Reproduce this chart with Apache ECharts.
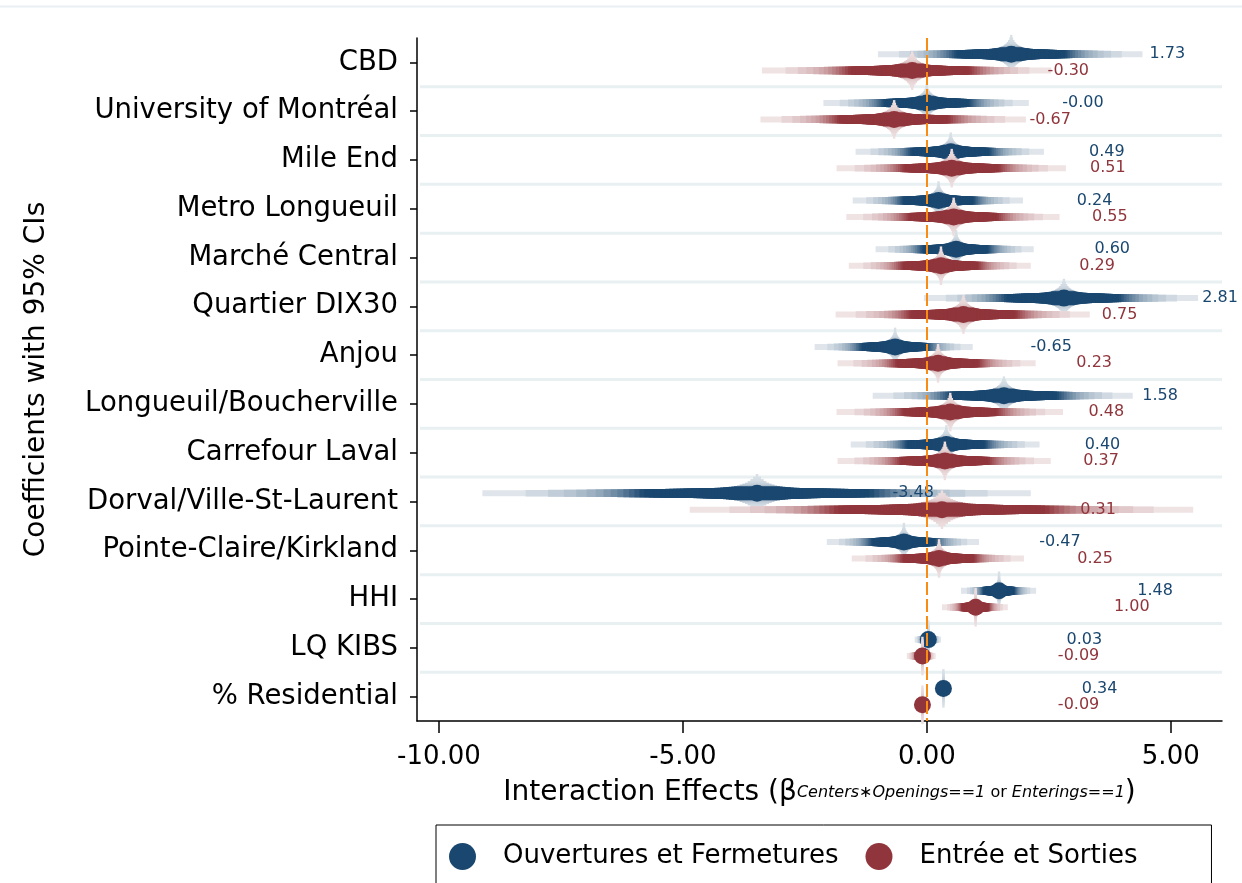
<!DOCTYPE html>
<html><head><meta charset="utf-8">
<script src="https://cdn.jsdelivr.net/npm/echarts@6/dist/echarts.min.js"></script>
<style>html,body{margin:0;padding:0;background:#fff}#c{width:1242px;height:883px}</style>
</head><body><div id="c"></div>
<script>
// ---------------- DATA ----------------
const categories = ['CBD','University of Montréal','Mile End','Metro Longueuil','Marché Central','Quartier DIX30','Anjou','Longueuil/Boucherville','Carrefour Laval','Dorval/Ville-St-Laurent','Pointe-Claire/Kirkland','HHI','LQ KIBS','% Residential'];
const seriesNames = ['Ouvertures et Fermetures','Entrée et Sorties'];
const blueEst = [1.73, -0.001, 0.49, 0.24, 0.60, 2.81, -0.65, 1.58, 0.40, -3.48, -0.47, 1.48, 0.03, 0.34];
const blueLo  = [-1.00, -2.12, -1.46, -1.52, -1.05, -0.06, -2.30, -1.11, -1.56, -9.11, -2.05, 0.70, -0.25, 0.25];
const blueHi  = [4.42, 2.09, 2.40, 1.97, 2.19, 5.56, 0.94, 4.22, 2.31, 2.13, 1.07, 2.24, 0.29, 0.43];
const redEst  = [-0.30, -0.67, 0.51, 0.55, 0.29, 0.75, 0.23, 0.48, 0.37, 0.31, 0.25, 1.00, -0.09, -0.09];
const redLo   = [-3.38, -3.41, -1.85, -1.65, -1.60, -1.87, -1.83, -1.85, -1.83, -4.86, -1.54, 0.31, -0.41, -0.17];
const redHi   = [2.55, 2.03, 2.85, 2.72, 2.13, 3.34, 2.23, 2.79, 2.54, 5.46, 1.99, 1.66, 0.18, -0.01];
const xTicks  = [-10, -5, 0, 5];

// ---------------- STYLE ----------------
const BLUE = [26, 71, 111], RED = [144, 53, 59];
const FONT = 'DejaVu Sans';
const LABEL_SHIFT = 3.2;   // value labels drawn this far right of the estimate (axis units)
const OFFSET = 8.2;        // px offset of the two series within a category band

function tint(c, i) { return 'rgb(' + c.map(v => Math.round(255 - i * (255 - v))).join(',') + ')'; }
function interp(xs, ys, x) {
  if (x <= xs[0]) return ys[0];
  for (let k = 1; k < xs.length; k++) if (x <= xs[k]) return ys[k-1] + (ys[k]-ys[k-1]) * (x-xs[k-1])/(xs[k]-xs[k-1]);
  return ys[ys.length-1];
}
function erf(x){const s=Math.sign(x);x=Math.abs(x);const t=1/(1+0.3275911*x);const y=1-(((((1.061405429*t-1.453152027)*t)+1.421413741)*t-0.284496736)*t+0.254829592)*t*Math.exp(-x*x);return s*y;}
function zOfLevel(t){let a=0,b=6;for(let k=0;k<60;k++){const m=(a+b)/2; if(erf(m/Math.SQRT2)<t) a=m; else b=m;}return (a+b)/2;}
// smooth-CI levels (rendering style)
const TH_F = [0, 0.01, 0.02, 0.04, 0.07, 0.10, 0.15, 0.25, 0.43, 1];
const TH_H = [41, 36, 30, 22, 16, 13, 11, 9.5, 8, 6];
const IN_F = [0, 0.02, 0.04, 0.07, 0.095, 0.42, 0.46, 0.52, 0.60, 0.70, 0.85, 1];
const IN_I = [0.16, 0.18, 0.22, 0.32, 1, 1, 0.85, 0.65, 0.45, 0.32, 0.2, 0.14];
const zMax = zOfLevel(0.99);
const LEVELS = [];
for (let k = 0; k < 50; k++) {
  const t = (2*k+1)/100, f = zOfLevel(t)/zMax;
  LEVELS.push({f, h: interp(TH_F, TH_H, f), i: interp(IN_F, IN_I, f), k});
}
LEVELS.sort((a, b) => a.i - b.i || b.f - a.f);

function makeRender(col, dy, drawSep) {
  return function (params, api) {
    const cat = api.value(0), est = api.value(1), lo = api.value(2), hi = api.value(3);
    const p = api.coord([est, cat]);
    const cx = p[0], cy = p[1] + dy;
    const L = cx - api.coord([lo, cat])[0], R = api.coord([hi, cat])[0] - cx;
    const children = [];
    if (drawSep && params.dataIndex < categories.length - 1) {
      const band = api.size([0, 1])[1];
      const cs = params.coordSys;
      const ys = p[1] + band/2;
      children.push({type:'line', shape:{x1: cs.x + 3, y1: ys, x2: cs.x + cs.width, y2: ys}, style:{stroke:'#e8f0f2', lineWidth:3}});
    }
    LEVELS.forEach(l => {
      const a = Math.max(l.f * L, 1.2), b = Math.max(l.f * R, 1.2);
      children.push({type:'rect', shape:{x: cx - a, y: cy - l.h/2, width: a + b, height: l.h}, style:{fill: tint(col, l.i)}});
    });
    children.push({type:'circle', shape:{cx, cy, r: 8.5}, style:{fill: tint(col, 1)}});
    const lp = api.coord([est + LABEL_SHIFT, cat]);
    children.push({type:'text', x: lp[0], y: cy, style:{text: est.toFixed(2), fill: tint(col, 1), fontSize: 16, fontFamily: FONT, align:'center', verticalAlign:'middle', textAlign:'center', textVerticalAlign:'middle'}});
    return {type:'group', children};
  };
}

const chart = echarts.init(document.getElementById('c'), null, {renderer:'canvas'});
chart.setOption({
  backgroundColor: '#fff',
  animation: false,
  graphic: [{type:'line', shape:{x1:0, y1:6.5, x2:1242, y2:6.5}, style:{stroke:'#eaeff3', lineWidth:2}, silent:true}],
  grid: {left: 417, right: 20, top: 38, bottom: 162, outerBoundsMode: 'none', containLabel: false},
  xAxis: {
    type: 'value', min: -10.45, max: 6.05,
    axisLine: {show: true, onZero: false, lineStyle: {color: '#000', width: 1.5}},
    axisTick: {show: true, customValues: xTicks, length: 12, lineStyle: {color: '#000', width: 1.5}},
    axisLabel: {customValues: xTicks, formatter: v => v.toFixed(2), fontSize: 26, fontFamily: FONT, color: '#000', margin: 23},
    splitLine: {show: false},
    name: '{m|Interaction Effects (β}{s|Centers∗Openings==1}{r| or }{s|Enterings==1}{m|)}',
    nameLocation: 'middle', nameGap: 58,
    nameTextStyle: {rich: {
      m: {fontSize: 28, fontFamily: FONT, color: '#000'},
      s: {fontSize: 16, fontFamily: FONT, fontStyle: 'italic', color: '#000'},
      r: {fontSize: 16, fontFamily: FONT, color: '#000'}
    }}
  },
  yAxis: {
    type: 'category', data: categories, inverse: true,
    axisLine: {show: true, onZero: false, lineStyle: {color: '#000', width: 1.5}},
    axisTick: {show: true, alignWithLabel: true, length: 7, lineStyle: {color: '#000', width: 1.5}},
    axisLabel: {fontSize: 27.5, fontFamily: FONT, color: '#000', margin: 19, padding: [12, 0, 0, 0]},
    splitLine: {show: false},
    name: 'Coefficients with 95% CIs', nameLocation: 'middle', nameRotate: 90, nameGap: 366,
    nameTextStyle: {fontSize: 28, fontFamily: FONT, color: '#000'}
  },
  legend: {
    data: seriesNames, left: 436, top: 825, orient: 'horizontal', icon: 'circle',
    itemWidth: 27, itemHeight: 27, itemGap: 27, padding: [18, 74, 30, 13],
    borderColor: '#000', borderWidth: 1, selectedMode: false,
    textStyle: {fontSize: 26, fontFamily: FONT, color: '#000', padding: [0, 0, 0, 22]}
  },
  series: [
    {type: 'line', data: [], silent: true, z: 1,
     markLine: {silent: true, symbol: 'none', label: {show: false},
       lineStyle: {color: '#f88c14', width: 2, type: [13, 4]},
       data: [{xAxis: 0}]}},
    {name: seriesNames[0], type: 'custom', z: 2, itemStyle: {color: tint(BLUE, 1)},
     encode: {x: [1, 2, 3], y: 0},
     data: blueEst.map((e, i) => [i, e, blueLo[i], blueHi[i]]),
     renderItem: makeRender(BLUE, -OFFSET, true)},
    {name: seriesNames[1], type: 'custom', z: 3, itemStyle: {color: tint(RED, 1)},
     encode: {x: [1, 2, 3], y: 0},
     data: redEst.map((e, i) => [i, e, redLo[i], redHi[i]]),
     renderItem: makeRender(RED, OFFSET, false)}
  ]
});
</script></body></html>
